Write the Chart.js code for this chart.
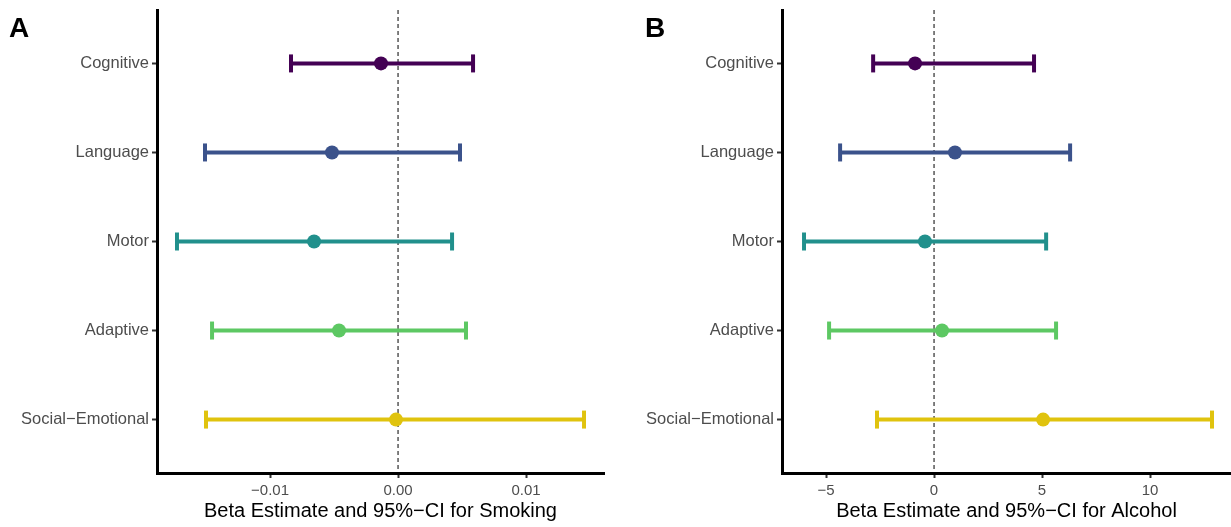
<!DOCTYPE html>
<html>
<head>
<meta charset="utf-8">
<title>Beta estimates</title>
<script src="https://cdn.jsdelivr.net/npm/chart.js@4.4.1/dist/chart.umd.min.js"></script>
<style>
body { margin: 0; background: #fff; width: 1231px; height: 527px; position: relative; overflow: hidden; font-family: "Liberation Sans", Arial, sans-serif; }
canvas { position: absolute; top: 0; }
#chartA { left: 0; }
#chartB { left: 615px; }
.tag { position: absolute; top: 14px; font-size: 28px; font-weight: bold; line-height: 1; color: #000; }
</style>
</head>
<body>
<canvas id="chartA" width="615" height="527"></canvas>
<canvas id="chartB" width="616" height="527"></canvas>
<div class="tag" style="left:9px">A</div>
<div class="tag" style="left:645px">B</div>
<script>
// outcome domains, top to bottom
var categories = ["Cognitive", "Language", "Motor", "Adaptive", "Social\u2212Emotional"];
var colors = ["#440154", "#3B528B", "#21908C", "#5DC863", "#E0C30E"];

// panel A - smoking
var smokeEst  = [-0.00133, -0.00516, -0.00656, -0.00461, -0.00016];
var smokeLow  = [-0.00836, -0.01508, -0.01727, -0.01453, -0.01500];
var smokeHigh = [ 0.00586,  0.00484,  0.00422,  0.00531,  0.01453];
var smokeTicks = [-0.01, 0, 0.01];
var smokeTickLabels = ["\u22120.01", "0.00", "0.01"];

// panel B - alcohol
var alcEst  = [-0.88,  0.97, -0.42,  0.37,  5.05];
var alcLow  = [-2.82, -4.35, -6.02, -4.86, -2.64];
var alcHigh = [ 4.63,  6.30,  5.19,  5.65, 12.87];
var alcTicks = [-5, 0, 5, 10];
var alcTickLabels = ["\u22125", "0", "5", "10"];

var xTickFont = { family: "'Liberation Sans', Arial, sans-serif", size: 15 };
var yTickFont = { family: "'Liberation Sans', Arial, sans-serif", size: 16.5 };
var titleFont = { family: "'Liberation Sans', Arial, sans-serif", size: 20 };

function makePanel(id, est, low, high, xMin, xMax, xTicks, xLabels, title, yWidth, padRight) {
    var datasets = [];
    // reference line at zero
    datasets.push({
        data: [{ x: 0, y: 0.4 }, { x: 0, y: 5.6 }],
        showLine: true,
        borderColor: "#000",
        borderWidth: 1,
        borderDash: [4, 3],
        pointRadius: 0,
        order: 3
    });
    for (let i = 0; i < categories.length; i++) {
        // CI line with caps
        datasets.push({
            data: [{ x: low[i], y: i + 1 }, { x: high[i], y: i + 1 }],
            showLine: true,
            borderColor: colors[i],
            borderWidth: 4,
            pointStyle: "line",
            pointRotation: 90,
            pointRadius: 9,
            pointBorderWidth: 4,
            pointBorderColor: colors[i],
            order: 2
        });
        // estimate
        datasets.push({
            data: [{ x: est[i], y: i + 1 }],
            pointRadius: 7,
            pointBackgroundColor: colors[i],
            pointBorderColor: colors[i],
            pointBorderWidth: 0,
            order: 1
        });
    }

    return new Chart(document.getElementById(id).getContext("2d"), {
        type: "scatter",
        data: { datasets: datasets },
        options: {
            responsive: false,
            animation: false,
            events: [],
            layout: { autoPadding: false, padding: { top: 10, right: padRight, bottom: 0, left: 0 } },
            plugins: { legend: { display: false }, tooltip: { enabled: false } },
            scales: {
                x: {
                    type: "linear",
                    min: xMin,
                    max: xMax,
                    afterBuildTicks: (scale) => { scale.ticks = xTicks.map(v => ({ value: v })); },
                    ticks: {
                        callback: (v, i) => xLabels[i],
                        font: xTickFont,
                        color: "#4D4D4D",
                        padding: 4,
                        maxRotation: 0
                    },
                    grid: { drawOnChartArea: false, tickLength: 5, tickColor: "#333", tickWidth: 2 },
                    border: { display: true, color: "#000", width: 3 },
                    title: { display: true, text: title, font: titleFont, color: "#000", padding: { top: 0, bottom: 4 } },
                    afterFit: (scale) => {
                        scale.height = 54;
                        scale.paddingLeft = 0;
                        scale.paddingRight = 0;
                    }
                },
                y: {
                    type: "linear",
                    min: 0.4,
                    max: 5.6,
                    reverse: true,
                    afterBuildTicks: (scale) => { scale.ticks = [1, 2, 3, 4, 5].map(v => ({ value: v })); },
                    ticks: {
                        callback: (v) => categories[v - 1],
                        font: yTickFont,
                        color: "#4D4D4D",
                        padding: 3
                    },
                    grid: { drawOnChartArea: false, tickLength: 5, tickColor: "#333", tickWidth: 2 },
                    border: { display: true, color: "#000", width: 3 },
                    afterFit: (scale) => {
                        scale.width = yWidth;
                        scale.paddingTop = 0;
                        scale.paddingBottom = 0;
                    }
                }
            }
        }
    });
}

makePanel("chartA", smokeEst, smokeLow, smokeHigh, -0.01883, 0.01609, smokeTicks, smokeTickLabels,
    "Beta Estimate and 95%\u2212CI for Smoking", 157, 11);
makePanel("chartB", alcEst, alcLow, alcHigh, -7.04, 13.75, alcTicks, alcTickLabels,
    "Beta Estimate and 95%\u2212CI for Alcohol", 167, 0);
</script>
</body>
</html>
